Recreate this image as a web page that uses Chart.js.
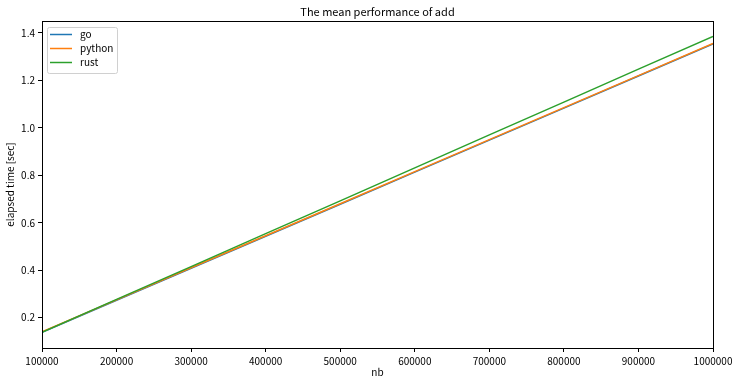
<!DOCTYPE html>
<html>
<head>
<meta charset="utf-8">
<script src="https://cdn.jsdelivr.net/npm/chart.js@4/dist/chart.umd.min.js"></script>
<style>
  html, body { margin: 0; padding: 0; background: #fff; }
  #wrap { width: 741px; height: 384px; position: relative; }
</style>
</head>
<body>
<div id="wrap"><canvas id="grafico" width="741" height="384"></canvas></div>
<script>
// data
const nbValues = [100000, 200000, 300000, 400000, 500000, 600000, 700000, 800000, 900000, 1000000];
const goTimes = [0.138, 0.273, 0.408, 0.543, 0.678, 0.813, 0.948, 1.083, 1.218, 1.353];
const pythonTimes = [0.140, 0.275, 0.410, 0.545, 0.680, 0.815, 0.950, 1.085, 1.220, 1.355];
const rustTimes = [0.138, 0.277, 0.415, 0.554, 0.692, 0.831, 0.970, 1.108, 1.247, 1.385];
const xTicks = [100000, 200000, 300000, 400000, 500000, 600000, 700000, 800000, 900000, 1000000];
const yTicks = [0.2, 0.4, 0.6, 0.8, 1.0, 1.2, 1.4];

const FONT = '"Noto Sans CJK JP", "DejaVu Sans", sans-serif';

function pts(ys) { return nbValues.map((x, i) => ({ x: x, y: ys[i] })); }

const series = [
    { label: 'go', data: goTimes, color: '#1f77b4', order: 3 },
    { label: 'python', data: pythonTimes, color: '#ff7f0e', order: 2 },
    { label: 'rust', data: rustTimes, color: '#2ca02c', order: 1 }
];

const decor = {
    id: 'decor',
    afterDraw(chart) {
        const ctx = chart.ctx;
        const a = chart.chartArea;
        ctx.save();
        // frame
        ctx.strokeStyle = '#000';
        ctx.lineWidth = 1;
        ctx.strokeRect(Math.round(a.left) + 0.5, Math.round(a.top) + 0.5, Math.round(a.right - a.left), Math.round(a.bottom - a.top));
        // title
        ctx.fillStyle = '#000';
        ctx.font = '11px ' + FONT;
        ctx.textAlign = 'center';
        ctx.textBaseline = 'middle';
        ctx.fillText('The mean performance of add', (a.left + a.right) / 2, 12);
        // axis labels
        ctx.font = '10px ' + FONT;
        ctx.fillText('nb', (a.left + a.right) / 2, 372);
        ctx.save();
        ctx.translate(10, (a.top + a.bottom) / 2);
        ctx.rotate(-Math.PI / 2);
        ctx.fillText('elapsed time [sec]', 0, 0);
        ctx.restore();
        // legend
        const lx = a.left + 5, ly = a.top + 6, lw = 70, lh = 46;
        ctx.fillStyle = 'rgba(255,255,255,0.8)';
        ctx.strokeStyle = '#d0d0d0';
        ctx.beginPath();
        ctx.roundRect(lx + 0.5, ly + 0.5, lw, lh, 2);
        ctx.fill();
        ctx.stroke();
        ctx.textAlign = 'left';
        series.forEach((s, i) => {
            const yy = ly + 7.5 + i * 14;
            ctx.strokeStyle = s.color;
            ctx.lineWidth = 1.5;
            ctx.beginPath();
            ctx.moveTo(lx + 3, yy);
            ctx.lineTo(lx + 25, yy);
            ctx.stroke();
            ctx.fillStyle = '#000';
            ctx.fillText(s.label, lx + 33, yy);
        });
        ctx.restore();
    }
};

new Chart(document.getElementById('grafico').getContext('2d'), {
    type: 'line',
    data: {
        datasets: series.map(s => ({
            label: s.label,
            data: pts(s.data),
            borderColor: s.color,
            backgroundColor: s.color,
            borderWidth: 1.5,
            pointRadius: 0,
            tension: 0,
            order: s.order
        }))
    },
    options: {
        responsive: false,
        animation: false,
        layout: { padding: { top: 21, right: 28, left: 0, bottom: 0 } },
        plugins: { legend: { display: false }, tooltip: { enabled: false }, title: { display: false } },
        scales: {
            x: {
                type: 'linear',
                min: 100000,
                max: 1000000,
                afterBuildTicks: s => { s.ticks = xTicks.map(v => ({ value: v })); },
                afterFit: s => { s.height = 36; },
                grid: { display: true, drawOnChartArea: false, drawTicks: true, tickLength: 4, color: '#000' },
                border: { display: false },
                ticks: { color: '#000', font: { size: 10, family: FONT }, maxRotation: 0, autoSkip: false, padding: 3, callback: v => String(v) }
            },
            y: {
                type: 'linear',
                min: 0.072,
                max: 1.45,
                afterBuildTicks: s => { s.ticks = yTicks.map(v => ({ value: v })); },
                afterFit: s => { s.width = 42; },
                grid: { display: true, drawOnChartArea: false, drawTicks: true, tickLength: 4, color: '#000' },
                border: { display: false },
                ticks: { color: '#000', font: { size: 10, family: FONT }, padding: 3, callback: v => v.toFixed(1) }
            }
        }
    },
    plugins: [decor]
});
</script>
</body>
</html>
